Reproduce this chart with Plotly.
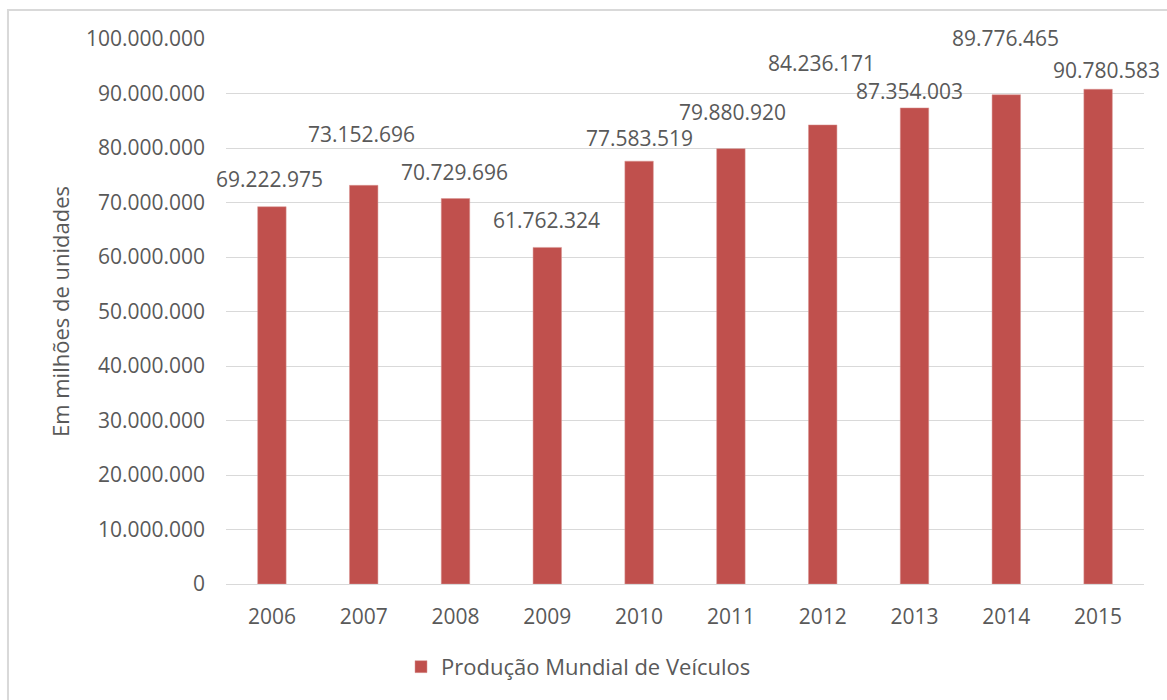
import plotly.graph_objects as go

years = ["2006", "2007", "2008", "2009", "2010", "2011", "2012", "2013", "2014", "2015"]
production = [69222975, 73152696, 70729696, 61762324, 77583519, 79880920, 84236171, 87354003, 89776465, 90780583]
series_name = "Produção Mundial de Veículos"
y_title = "Em milhões de unidades"
y_ticks = list(range(0, 100000001, 10000000))

# label offsets (px) used to reproduce the manually placed data labels
label_dy = [12, 35, 11, 11, 7, 21, 46, 1, 41, 3]
label_dx = [-2, -2, -1, -1, 0, 2, -1, -5, -1, 8]

def fmt(v):
    return f"{v:,}".replace(",", ".")

bar_color = "#c0504d"
txt_color = "#595959"
font_family = "Open Sans"

fig = go.Figure()
fig.add_trace(go.Bar(
    x=years, y=production, name=series_name,
    marker=dict(color=bar_color, line=dict(color="#d99694", width=0.5)),
    width=0.31, hoverinfo="x+y",
))

for i, (v, dy, dx) in enumerate(zip(production, label_dy, label_dx)):
    fig.add_annotation(x=i, y=v, text=fmt(v), showarrow=False,
                       yanchor="bottom", yshift=dy, xshift=dx,
                       font=dict(family=font_family, size=21, color=txt_color))

fig.add_shape(type="rect", xref="paper", yref="paper",
              x0=-0.2375, y0=-0.5, x1=1.5, y1=1.0532,
              line=dict(color="#d9d9d9", width=2), fillcolor="rgba(0,0,0,0)", layer="below")

fig.update_layout(
    width=1167, height=700,
    margin=dict(l=226, r=23, t=39, b=116),
    paper_bgcolor="white", plot_bgcolor="white",
    font=dict(family=font_family, color=txt_color, size=21),
    showlegend=True,
    legend=dict(orientation="h", x=0.384, xanchor="center", y=-0.152, yanchor="middle",
                font=dict(size=22, color=txt_color), itemwidth=30),
    yaxis=dict(range=[0, 100000000], tickvals=y_ticks,
               ticktext=[fmt(t) for t in y_ticks],
               showgrid=True, gridcolor="#d9d9d9", gridwidth=1,
               zeroline=False, showline=False, ticks="", ticklen=0,
               ticklabelstandoff=20,
               title=dict(text=y_title, font=dict(size=22, color=txt_color), standoff=10),
               tickfont=dict(size=21, color=txt_color)),
    xaxis=dict(type="category", range=[-0.5, 9.5], showline=True, linecolor="#d9d9d9",
               linewidth=1, ticks="", ticklabelstandoff=14,
               tickfont=dict(size=21, color=txt_color), showgrid=False),
    bargap=0.69,
)

fig.write_html("out.html")
